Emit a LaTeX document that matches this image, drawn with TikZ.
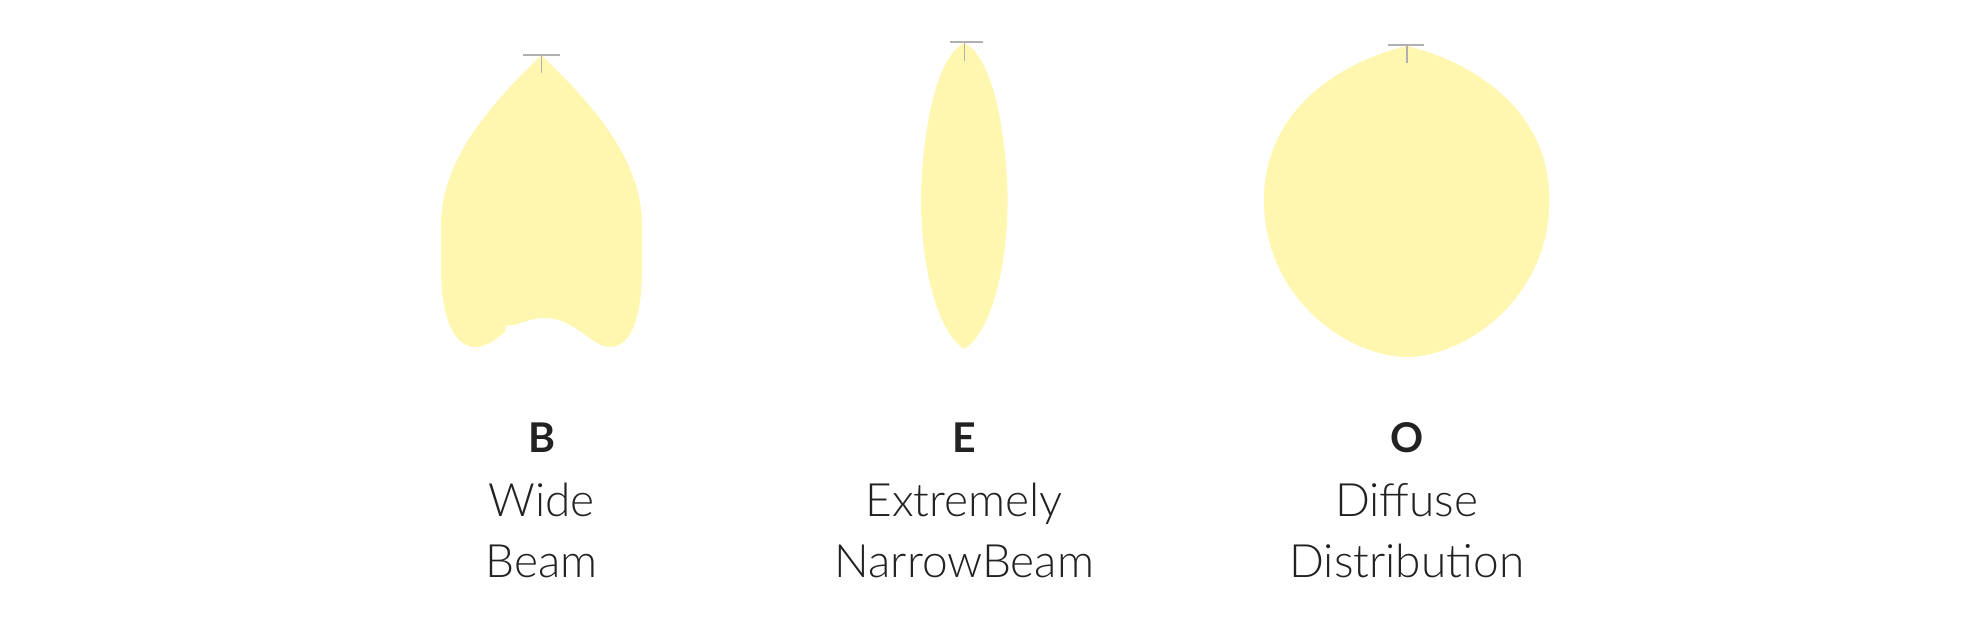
\documentclass[tikz,border=0pt]{standalone}
\usepackage{fontspec}
\setmainfont{Lato}[UprightFont={* Light}, BoldFont={* Bold}]
\definecolor{beamfill}{RGB}{255,247,176}
\definecolor{tickgray}{RGB}{176,176,176}
\definecolor{txt}{RGB}{34,34,34}
\tikzset{
  beamshape/.style={fill=beamfill, draw=none},
  tickline/.style={draw=tickgray, line width=1.6pt},
  lbl/.style={text=txt, inner sep=0pt, anchor=base, font=\fontsize{46}{46}\selectfont},
  letter/.style={text=txt, inner sep=0pt, anchor=base, font=\bfseries\fontsize{41}{41}\selectfont}
}
\begin{document}
\begin{tikzpicture}[x=1pt,y=-1pt]
\useasboundingbox (0,0) rectangle (1978,631);
% B wide beam
\path[beamshape] (541.5,55) .. controls (490,105) and (441,160) .. (441,225)
  -- (441,268) .. controls (441,320) and (455,347) .. (475,347)
  .. controls (488,347) and (500,336) .. (505,332)
  -- (506,325) -- (515,325)
  .. controls (525,321) and (535,318) .. (545,318)
  .. controls (575,318) and (592,347) .. (610,347)
  .. controls (630,347) and (642,320) .. (642,268)
  -- (642,225) .. controls (642,160) and (593,105) .. (541.5,55) -- cycle;
% E narrow beam
\path[beamshape] (964.3,43) .. controls (930,60) and (921,160) .. (921,200)
  .. controls (921,260) and (935,330) .. (964.3,349)
  .. controls (993.6,330) and (1007.6,260) .. (1007.6,200)
  .. controls (1007.6,160) and (998.6,60) .. (964.3,43) -- cycle;
% O diffuse
\path[beamshape] (1406.7,46) .. controls (1340,62) and (1264,110) .. (1264,200)
  .. controls (1264,300) and (1350,357) .. (1406.7,357)
  .. controls (1463.4,357) and (1549.4,300) .. (1549.4,200)
  .. controls (1549.4,110) and (1473.4,62) .. (1406.7,46) -- cycle;
% ticks
\coordinate (bl) at (523.3,55.3); \coordinate (br) at (560,55.3);
\coordinate (bt) at (541.5,55.3); \coordinate (bb) at (541.5,73.3);
\draw[tickline] (bl) -- (br); \draw[tickline] (bt) -- (bb);
\coordinate (el) at (950,42.3); \coordinate (er) at (982.7,42.3);
\coordinate (et) at (964.3,42.3); \coordinate (eb) at (964.3,60.7);
\draw[tickline] (el) -- (er); \draw[tickline] (et) -- (eb);
\coordinate (ol) at (1388,45); \coordinate (or) at (1424,45);
\coordinate (ot) at (1406.7,45); \coordinate (ob) at (1406.7,63.3);
\draw[tickline] (ol) -- (or); \draw[tickline] (ot) -- (ob);
% labels
\node[letter] (B) at (541.5,452) {B};
\node[lbl] (B1) at (541.5,516) {Wide};
\node[lbl] (B2) at (541.5,577) {Beam};
\node[letter] (E) at (964.3,452) {E};
\node[lbl] (E1) at (964.3,516) {Extremely};
\node[lbl] (E2) at (964.3,577) {NarrowBeam};
\node[letter] (O) at (1406.7,452) {O};
\node[lbl] (O1) at (1406.7,516) {Diffuse};
\node[lbl] (O2) at (1406.7,577) {Distribution};
\end{tikzpicture}
\end{document}
